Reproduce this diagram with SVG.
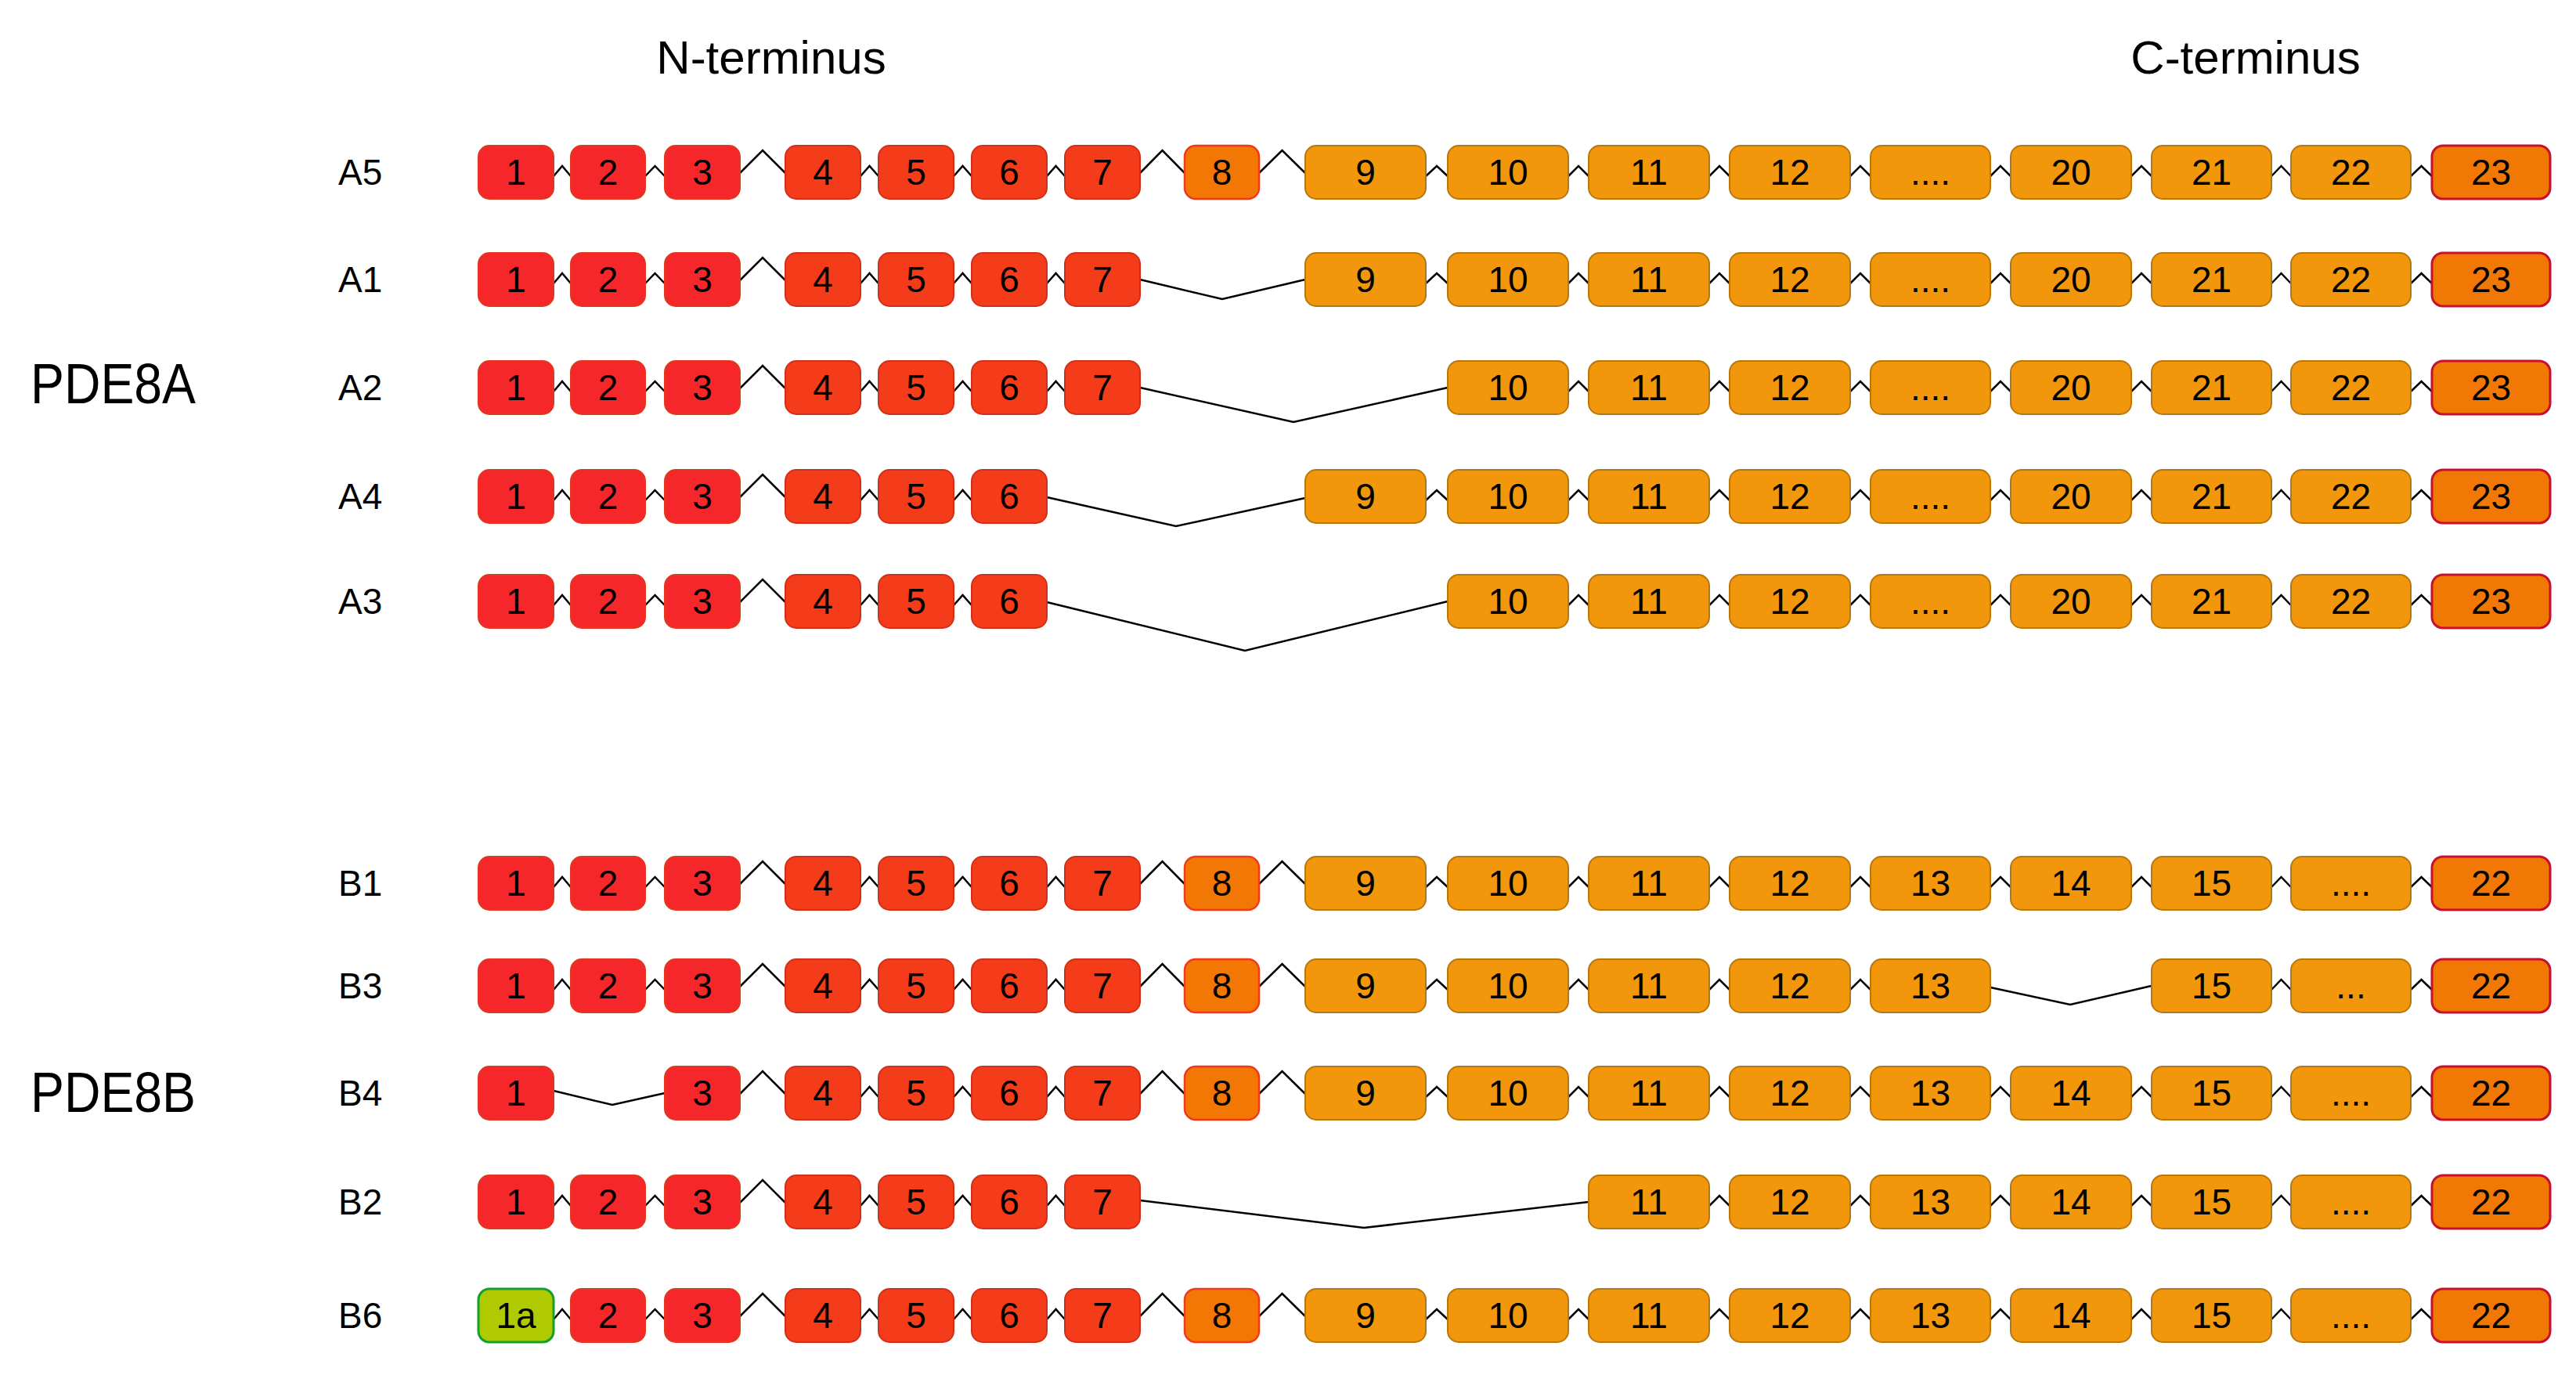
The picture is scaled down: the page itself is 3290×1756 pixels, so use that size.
<svg xmlns="http://www.w3.org/2000/svg" width="3290" height="1756" viewBox="0 0 3290 1756">
<style>
rect{rx:14px;ry:14px}
.r1{fill:#F5272B;stroke:#E0381C;stroke-width:2}
.r2{fill:#F43C1A;stroke:#D0301A;stroke-width:2}
.o8{fill:#F27705;stroke:#F03A1E;stroke-width:2.5}
.o{fill:#F2960B;stroke:#B8770E;stroke-width:2}
.l{fill:#F27806;stroke:#C8102E;stroke-width:3}
.g{fill:#AFCA00;stroke:#14A02C;stroke-width:3}
text{font-family:"Liberation Sans",Arial,sans-serif;fill:#000}
.n{font-size:46px;text-anchor:middle}
.lab{font-size:46px}
.big{font-size:72px}
.ter{font-size:60px;text-anchor:middle}
.cn{fill:none;stroke:#000;stroke-width:2.5}
</style>
<rect x="0" y="0" width="3290" height="1756" style="fill:#fff;rx:0;ry:0"/>
<g id="titles">
<text class="ter" x="985" y="94">N-terminus</text>
<text class="ter" x="2868" y="94">C-terminus</text>
<text class="big" x="39" y="515" textLength="211" lengthAdjust="spacingAndGlyphs">PDE8A</text>
<text class="big" x="39" y="1420" textLength="211" lengthAdjust="spacingAndGlyphs">PDE8B</text>
<text class="lab" x="432" y="236">A5</text>
<text class="lab" x="432" y="373">A1</text>
<text class="lab" x="432" y="511">A2</text>
<text class="lab" x="432" y="650">A4</text>
<text class="lab" x="432" y="784">A3</text>
<text class="lab" x="432" y="1144">B1</text>
<text class="lab" x="432" y="1275">B3</text>
<text class="lab" x="432" y="1412">B4</text>
<text class="lab" x="432" y="1551">B2</text>
<text class="lab" x="432" y="1696">B6</text>
</g>
<g id="connectors" class="cn">
<path id="c-A5" d="M707,225L718,212L729,225M824,225L836.5,212L849,225M945,221L974,192L1003,221M1099,225L1110.5,212L1122,225M1218,225L1229.5,212L1241,225M1337,225L1348.5,212L1360,225M1456,221L1484.5,192L1513,221M1608,221L1637.5,192L1667,221M1821,225L1835,212L1849,225M2003,225L2016,212L2029,225M2183,225L2196,212L2209,225M2363,225L2376,212L2389,225M2542,225L2555,212L2568,225M2722,225L2735,212L2748,225M2901,225L2913.5,212L2926,225M3079,225L3092.5,212L3106,225"/>
<path id="c-A1" d="M707,362L718,349L729,362M824,362L836.5,349L849,362M945,358L974,329L1003,358M1099,362L1110.5,349L1122,362M1218,362L1229.5,349L1241,362M1337,362L1348.5,349L1360,362M1456,357L1561,382L1667,357M1821,362L1835,349L1849,362M2003,362L2016,349L2029,362M2183,362L2196,349L2209,362M2363,362L2376,349L2389,362M2542,362L2555,349L2568,362M2722,362L2735,349L2748,362M2901,362L2913.5,349L2926,362M3079,362L3092.5,349L3106,362"/>
<path id="c-A2" d="M707,500L718,487L729,500M824,500L836.5,487L849,500M945,496L974,467L1003,496M1099,500L1110.5,487L1122,500M1218,500L1229.5,487L1241,500M1337,500L1348.5,487L1360,500M1456,495L1652,539L1849,495M2003,500L2016,487L2029,500M2183,500L2196,487L2209,500M2363,500L2376,487L2389,500M2542,500L2555,487L2568,500M2722,500L2735,487L2748,500M2901,500L2913.5,487L2926,500M3079,500L3092.5,487L3106,500"/>
<path id="c-A4" d="M707,639L718,626L729,639M824,639L836.5,626L849,639M945,635L974,606L1003,635M1099,639L1110.5,626L1122,639M1218,639L1229.5,626L1241,639M1337,635L1502,672L1667,636M1821,639L1835,626L1849,639M2003,639L2016,626L2029,639M2183,639L2196,626L2209,639M2363,639L2376,626L2389,639M2542,639L2555,626L2568,639M2722,639L2735,626L2748,639M2901,639L2913.5,626L2926,639M3079,639L3092.5,626L3106,639"/>
<path id="c-A3" d="M707,773L718,760L729,773M824,773L836.5,760L849,773M945,769L974,740L1003,769M1099,773L1110.5,760L1122,773M1218,773L1229.5,760L1241,773M1337,769L1590,831L1849,768M2003,773L2016,760L2029,773M2183,773L2196,760L2209,773M2363,773L2376,760L2389,773M2542,773L2555,760L2568,773M2722,773L2735,760L2748,773M2901,773L2913.5,760L2926,773M3079,773L3092.5,760L3106,773"/>
<path id="c-B1" d="M707,1133L718,1120L729,1133M824,1133L836.5,1120L849,1133M945,1129L974,1100L1003,1129M1099,1133L1110.5,1120L1122,1133M1218,1133L1229.5,1120L1241,1133M1337,1133L1348.5,1120L1360,1133M1456,1129L1484.5,1100L1513,1129M1608,1129L1637.5,1100L1667,1129M1821,1133L1835,1120L1849,1133M2003,1133L2016,1120L2029,1133M2183,1133L2196,1120L2209,1133M2363,1133L2376,1120L2389,1133M2542,1133L2555,1120L2568,1133M2722,1133L2735,1120L2748,1133M2901,1133L2913.5,1120L2926,1133M3079,1133L3092.5,1120L3106,1133"/>
<path id="c-B3" d="M707,1264L718,1251L729,1264M824,1264L836.5,1251L849,1264M945,1260L974,1231L1003,1260M1099,1264L1110.5,1251L1122,1264M1218,1264L1229.5,1251L1241,1264M1337,1264L1348.5,1251L1360,1264M1456,1260L1484.5,1231L1513,1260M1608,1260L1637.5,1231L1667,1260M1821,1264L1835,1251L1849,1264M2003,1264L2016,1251L2029,1264M2183,1264L2196,1251L2209,1264M2363,1264L2376,1251L2389,1264M2542,1261L2644,1283L2748,1259M2901,1264L2913.5,1251L2926,1264M3079,1264L3092.5,1251L3106,1264"/>
<path id="c-B4" d="M707,1393L782,1411L849,1396M945,1397L974,1368L1003,1397M1099,1401L1110.5,1388L1122,1401M1218,1401L1229.5,1388L1241,1401M1337,1401L1348.5,1388L1360,1401M1456,1397L1484.5,1368L1513,1397M1608,1397L1637.5,1368L1667,1397M1821,1401L1835,1388L1849,1401M2003,1401L2016,1388L2029,1401M2183,1401L2196,1388L2209,1401M2363,1401L2376,1388L2389,1401M2542,1401L2555,1388L2568,1401M2722,1401L2735,1388L2748,1401M2901,1401L2913.5,1388L2926,1401M3079,1401L3092.5,1388L3106,1401"/>
<path id="c-B2" d="M707,1540L718,1527L729,1540M824,1540L836.5,1527L849,1540M945,1536L974,1507L1003,1536M1099,1540L1110.5,1527L1122,1540M1218,1540L1229.5,1527L1241,1540M1337,1540L1348.5,1527L1360,1540M1456,1533L1742,1568L2029,1535M2183,1540L2196,1527L2209,1540M2363,1540L2376,1527L2389,1540M2542,1540L2555,1527L2568,1540M2722,1540L2735,1527L2748,1540M2901,1540L2913.5,1527L2926,1540M3079,1540L3092.5,1527L3106,1540"/>
<path id="c-B6" d="M707,1685L718,1672L729,1685M824,1685L836.5,1672L849,1685M945,1681L974,1652L1003,1681M1099,1685L1110.5,1672L1122,1685M1218,1685L1229.5,1672L1241,1685M1337,1685L1348.5,1672L1360,1685M1456,1681L1484.5,1652L1513,1681M1608,1681L1637.5,1652L1667,1681M1821,1685L1835,1672L1849,1685M2003,1685L2016,1672L2029,1685M2183,1685L2196,1672L2209,1685M2363,1685L2376,1672L2389,1685M2542,1685L2555,1672L2568,1685M2722,1685L2735,1672L2748,1685M2901,1685L2913.5,1672L2926,1685M3079,1685L3092.5,1672L3106,1685"/>
</g>
<g id="row-A5">
<g id="A5-e1"><rect class="r1" x="611" y="186" width="96" height="68"/><text class="n" x="659" y="236">1</text></g>
<g id="A5-e2"><rect class="r1" x="729" y="186" width="95" height="68"/><text class="n" x="776.5" y="236">2</text></g>
<g id="A5-e3"><rect class="r1" x="849" y="186" width="96" height="68"/><text class="n" x="897" y="236">3</text></g>
<g id="A5-e4"><rect class="r2" x="1003" y="186" width="96" height="68"/><text class="n" x="1051" y="236">4</text></g>
<g id="A5-e5"><rect class="r2" x="1122" y="186" width="96" height="68"/><text class="n" x="1170" y="236">5</text></g>
<g id="A5-e6"><rect class="r2" x="1241" y="186" width="96" height="68"/><text class="n" x="1289" y="236">6</text></g>
<g id="A5-e7"><rect class="r2" x="1360" y="186" width="96" height="68"/><text class="n" x="1408" y="236">7</text></g>
<g id="A5-e8"><rect class="o8" x="1513" y="186" width="95" height="68"/><text class="n" x="1560.5" y="236">8</text></g>
<g id="A5-e9"><rect class="o" x="1667" y="186" width="154" height="68"/><text class="n" x="1744" y="236">9</text></g>
<g id="A5-e10"><rect class="o" x="1849" y="186" width="154" height="68"/><text class="n" x="1926" y="236">10</text></g>
<g id="A5-e11"><rect class="o" x="2029" y="186" width="154" height="68"/><text class="n" x="2106" y="236">11</text></g>
<g id="A5-e12"><rect class="o" x="2209" y="186" width="154" height="68"/><text class="n" x="2286" y="236">12</text></g>
<g id="A5-dots"><rect class="o" x="2389" y="186" width="153" height="68"/><text class="n" x="2465.5" y="236">....</text></g>
<g id="A5-e20"><rect class="o" x="2568" y="186" width="154" height="68"/><text class="n" x="2645" y="236">20</text></g>
<g id="A5-e21"><rect class="o" x="2748" y="186" width="153" height="68"/><text class="n" x="2824.5" y="236">21</text></g>
<g id="A5-e22"><rect class="o" x="2926" y="186" width="153" height="68"/><text class="n" x="3002.5" y="236">22</text></g>
<g id="A5-e23"><rect class="l" x="3106" y="186" width="151" height="68"/><text class="n" x="3181.5" y="236">23</text></g>
</g>
<g id="row-A1">
<g id="A1-e1"><rect class="r1" x="611" y="323" width="96" height="68"/><text class="n" x="659" y="373">1</text></g>
<g id="A1-e2"><rect class="r1" x="729" y="323" width="95" height="68"/><text class="n" x="776.5" y="373">2</text></g>
<g id="A1-e3"><rect class="r1" x="849" y="323" width="96" height="68"/><text class="n" x="897" y="373">3</text></g>
<g id="A1-e4"><rect class="r2" x="1003" y="323" width="96" height="68"/><text class="n" x="1051" y="373">4</text></g>
<g id="A1-e5"><rect class="r2" x="1122" y="323" width="96" height="68"/><text class="n" x="1170" y="373">5</text></g>
<g id="A1-e6"><rect class="r2" x="1241" y="323" width="96" height="68"/><text class="n" x="1289" y="373">6</text></g>
<g id="A1-e7"><rect class="r2" x="1360" y="323" width="96" height="68"/><text class="n" x="1408" y="373">7</text></g>
<g id="A1-e9"><rect class="o" x="1667" y="323" width="154" height="68"/><text class="n" x="1744" y="373">9</text></g>
<g id="A1-e10"><rect class="o" x="1849" y="323" width="154" height="68"/><text class="n" x="1926" y="373">10</text></g>
<g id="A1-e11"><rect class="o" x="2029" y="323" width="154" height="68"/><text class="n" x="2106" y="373">11</text></g>
<g id="A1-e12"><rect class="o" x="2209" y="323" width="154" height="68"/><text class="n" x="2286" y="373">12</text></g>
<g id="A1-dots"><rect class="o" x="2389" y="323" width="153" height="68"/><text class="n" x="2465.5" y="373">....</text></g>
<g id="A1-e20"><rect class="o" x="2568" y="323" width="154" height="68"/><text class="n" x="2645" y="373">20</text></g>
<g id="A1-e21"><rect class="o" x="2748" y="323" width="153" height="68"/><text class="n" x="2824.5" y="373">21</text></g>
<g id="A1-e22"><rect class="o" x="2926" y="323" width="153" height="68"/><text class="n" x="3002.5" y="373">22</text></g>
<g id="A1-e23"><rect class="l" x="3106" y="323" width="151" height="68"/><text class="n" x="3181.5" y="373">23</text></g>
</g>
<g id="row-A2">
<g id="A2-e1"><rect class="r1" x="611" y="461" width="96" height="68"/><text class="n" x="659" y="511">1</text></g>
<g id="A2-e2"><rect class="r1" x="729" y="461" width="95" height="68"/><text class="n" x="776.5" y="511">2</text></g>
<g id="A2-e3"><rect class="r1" x="849" y="461" width="96" height="68"/><text class="n" x="897" y="511">3</text></g>
<g id="A2-e4"><rect class="r2" x="1003" y="461" width="96" height="68"/><text class="n" x="1051" y="511">4</text></g>
<g id="A2-e5"><rect class="r2" x="1122" y="461" width="96" height="68"/><text class="n" x="1170" y="511">5</text></g>
<g id="A2-e6"><rect class="r2" x="1241" y="461" width="96" height="68"/><text class="n" x="1289" y="511">6</text></g>
<g id="A2-e7"><rect class="r2" x="1360" y="461" width="96" height="68"/><text class="n" x="1408" y="511">7</text></g>
<g id="A2-e10"><rect class="o" x="1849" y="461" width="154" height="68"/><text class="n" x="1926" y="511">10</text></g>
<g id="A2-e11"><rect class="o" x="2029" y="461" width="154" height="68"/><text class="n" x="2106" y="511">11</text></g>
<g id="A2-e12"><rect class="o" x="2209" y="461" width="154" height="68"/><text class="n" x="2286" y="511">12</text></g>
<g id="A2-dots"><rect class="o" x="2389" y="461" width="153" height="68"/><text class="n" x="2465.5" y="511">....</text></g>
<g id="A2-e20"><rect class="o" x="2568" y="461" width="154" height="68"/><text class="n" x="2645" y="511">20</text></g>
<g id="A2-e21"><rect class="o" x="2748" y="461" width="153" height="68"/><text class="n" x="2824.5" y="511">21</text></g>
<g id="A2-e22"><rect class="o" x="2926" y="461" width="153" height="68"/><text class="n" x="3002.5" y="511">22</text></g>
<g id="A2-e23"><rect class="l" x="3106" y="461" width="151" height="68"/><text class="n" x="3181.5" y="511">23</text></g>
</g>
<g id="row-A4">
<g id="A4-e1"><rect class="r1" x="611" y="600" width="96" height="68"/><text class="n" x="659" y="650">1</text></g>
<g id="A4-e2"><rect class="r1" x="729" y="600" width="95" height="68"/><text class="n" x="776.5" y="650">2</text></g>
<g id="A4-e3"><rect class="r1" x="849" y="600" width="96" height="68"/><text class="n" x="897" y="650">3</text></g>
<g id="A4-e4"><rect class="r2" x="1003" y="600" width="96" height="68"/><text class="n" x="1051" y="650">4</text></g>
<g id="A4-e5"><rect class="r2" x="1122" y="600" width="96" height="68"/><text class="n" x="1170" y="650">5</text></g>
<g id="A4-e6"><rect class="r2" x="1241" y="600" width="96" height="68"/><text class="n" x="1289" y="650">6</text></g>
<g id="A4-e9"><rect class="o" x="1667" y="600" width="154" height="68"/><text class="n" x="1744" y="650">9</text></g>
<g id="A4-e10"><rect class="o" x="1849" y="600" width="154" height="68"/><text class="n" x="1926" y="650">10</text></g>
<g id="A4-e11"><rect class="o" x="2029" y="600" width="154" height="68"/><text class="n" x="2106" y="650">11</text></g>
<g id="A4-e12"><rect class="o" x="2209" y="600" width="154" height="68"/><text class="n" x="2286" y="650">12</text></g>
<g id="A4-dots"><rect class="o" x="2389" y="600" width="153" height="68"/><text class="n" x="2465.5" y="650">....</text></g>
<g id="A4-e20"><rect class="o" x="2568" y="600" width="154" height="68"/><text class="n" x="2645" y="650">20</text></g>
<g id="A4-e21"><rect class="o" x="2748" y="600" width="153" height="68"/><text class="n" x="2824.5" y="650">21</text></g>
<g id="A4-e22"><rect class="o" x="2926" y="600" width="153" height="68"/><text class="n" x="3002.5" y="650">22</text></g>
<g id="A4-e23"><rect class="l" x="3106" y="600" width="151" height="68"/><text class="n" x="3181.5" y="650">23</text></g>
</g>
<g id="row-A3">
<g id="A3-e1"><rect class="r1" x="611" y="734" width="96" height="68"/><text class="n" x="659" y="784">1</text></g>
<g id="A3-e2"><rect class="r1" x="729" y="734" width="95" height="68"/><text class="n" x="776.5" y="784">2</text></g>
<g id="A3-e3"><rect class="r1" x="849" y="734" width="96" height="68"/><text class="n" x="897" y="784">3</text></g>
<g id="A3-e4"><rect class="r2" x="1003" y="734" width="96" height="68"/><text class="n" x="1051" y="784">4</text></g>
<g id="A3-e5"><rect class="r2" x="1122" y="734" width="96" height="68"/><text class="n" x="1170" y="784">5</text></g>
<g id="A3-e6"><rect class="r2" x="1241" y="734" width="96" height="68"/><text class="n" x="1289" y="784">6</text></g>
<g id="A3-e10"><rect class="o" x="1849" y="734" width="154" height="68"/><text class="n" x="1926" y="784">10</text></g>
<g id="A3-e11"><rect class="o" x="2029" y="734" width="154" height="68"/><text class="n" x="2106" y="784">11</text></g>
<g id="A3-e12"><rect class="o" x="2209" y="734" width="154" height="68"/><text class="n" x="2286" y="784">12</text></g>
<g id="A3-dots"><rect class="o" x="2389" y="734" width="153" height="68"/><text class="n" x="2465.5" y="784">....</text></g>
<g id="A3-e20"><rect class="o" x="2568" y="734" width="154" height="68"/><text class="n" x="2645" y="784">20</text></g>
<g id="A3-e21"><rect class="o" x="2748" y="734" width="153" height="68"/><text class="n" x="2824.5" y="784">21</text></g>
<g id="A3-e22"><rect class="o" x="2926" y="734" width="153" height="68"/><text class="n" x="3002.5" y="784">22</text></g>
<g id="A3-e23"><rect class="l" x="3106" y="734" width="151" height="68"/><text class="n" x="3181.5" y="784">23</text></g>
</g>
<g id="row-B1">
<g id="B1-e1"><rect class="r1" x="611" y="1094" width="96" height="68"/><text class="n" x="659" y="1144">1</text></g>
<g id="B1-e2"><rect class="r1" x="729" y="1094" width="95" height="68"/><text class="n" x="776.5" y="1144">2</text></g>
<g id="B1-e3"><rect class="r1" x="849" y="1094" width="96" height="68"/><text class="n" x="897" y="1144">3</text></g>
<g id="B1-e4"><rect class="r2" x="1003" y="1094" width="96" height="68"/><text class="n" x="1051" y="1144">4</text></g>
<g id="B1-e5"><rect class="r2" x="1122" y="1094" width="96" height="68"/><text class="n" x="1170" y="1144">5</text></g>
<g id="B1-e6"><rect class="r2" x="1241" y="1094" width="96" height="68"/><text class="n" x="1289" y="1144">6</text></g>
<g id="B1-e7"><rect class="r2" x="1360" y="1094" width="96" height="68"/><text class="n" x="1408" y="1144">7</text></g>
<g id="B1-e8"><rect class="o8" x="1513" y="1094" width="95" height="68"/><text class="n" x="1560.5" y="1144">8</text></g>
<g id="B1-e9"><rect class="o" x="1667" y="1094" width="154" height="68"/><text class="n" x="1744" y="1144">9</text></g>
<g id="B1-e10"><rect class="o" x="1849" y="1094" width="154" height="68"/><text class="n" x="1926" y="1144">10</text></g>
<g id="B1-e11"><rect class="o" x="2029" y="1094" width="154" height="68"/><text class="n" x="2106" y="1144">11</text></g>
<g id="B1-e12"><rect class="o" x="2209" y="1094" width="154" height="68"/><text class="n" x="2286" y="1144">12</text></g>
<g id="B1-e13"><rect class="o" x="2389" y="1094" width="153" height="68"/><text class="n" x="2465.5" y="1144">13</text></g>
<g id="B1-e14"><rect class="o" x="2568" y="1094" width="154" height="68"/><text class="n" x="2645" y="1144">14</text></g>
<g id="B1-e15"><rect class="o" x="2748" y="1094" width="153" height="68"/><text class="n" x="2824.5" y="1144">15</text></g>
<g id="B1-dots"><rect class="o" x="2926" y="1094" width="153" height="68"/><text class="n" x="3002.5" y="1144">....</text></g>
<g id="B1-e22"><rect class="l" x="3106" y="1094" width="151" height="68"/><text class="n" x="3181.5" y="1144">22</text></g>
</g>
<g id="row-B3">
<g id="B3-e1"><rect class="r1" x="611" y="1225" width="96" height="68"/><text class="n" x="659" y="1275">1</text></g>
<g id="B3-e2"><rect class="r1" x="729" y="1225" width="95" height="68"/><text class="n" x="776.5" y="1275">2</text></g>
<g id="B3-e3"><rect class="r1" x="849" y="1225" width="96" height="68"/><text class="n" x="897" y="1275">3</text></g>
<g id="B3-e4"><rect class="r2" x="1003" y="1225" width="96" height="68"/><text class="n" x="1051" y="1275">4</text></g>
<g id="B3-e5"><rect class="r2" x="1122" y="1225" width="96" height="68"/><text class="n" x="1170" y="1275">5</text></g>
<g id="B3-e6"><rect class="r2" x="1241" y="1225" width="96" height="68"/><text class="n" x="1289" y="1275">6</text></g>
<g id="B3-e7"><rect class="r2" x="1360" y="1225" width="96" height="68"/><text class="n" x="1408" y="1275">7</text></g>
<g id="B3-e8"><rect class="o8" x="1513" y="1225" width="95" height="68"/><text class="n" x="1560.5" y="1275">8</text></g>
<g id="B3-e9"><rect class="o" x="1667" y="1225" width="154" height="68"/><text class="n" x="1744" y="1275">9</text></g>
<g id="B3-e10"><rect class="o" x="1849" y="1225" width="154" height="68"/><text class="n" x="1926" y="1275">10</text></g>
<g id="B3-e11"><rect class="o" x="2029" y="1225" width="154" height="68"/><text class="n" x="2106" y="1275">11</text></g>
<g id="B3-e12"><rect class="o" x="2209" y="1225" width="154" height="68"/><text class="n" x="2286" y="1275">12</text></g>
<g id="B3-e13"><rect class="o" x="2389" y="1225" width="153" height="68"/><text class="n" x="2465.5" y="1275">13</text></g>
<g id="B3-e15"><rect class="o" x="2748" y="1225" width="153" height="68"/><text class="n" x="2824.5" y="1275">15</text></g>
<g id="B3-dots"><rect class="o" x="2926" y="1225" width="153" height="68"/><text class="n" x="3002.5" y="1275">...</text></g>
<g id="B3-e22"><rect class="l" x="3106" y="1225" width="151" height="68"/><text class="n" x="3181.5" y="1275">22</text></g>
</g>
<g id="row-B4">
<g id="B4-e1"><rect class="r1" x="611" y="1362" width="96" height="68"/><text class="n" x="659" y="1412">1</text></g>
<g id="B4-e3"><rect class="r1" x="849" y="1362" width="96" height="68"/><text class="n" x="897" y="1412">3</text></g>
<g id="B4-e4"><rect class="r2" x="1003" y="1362" width="96" height="68"/><text class="n" x="1051" y="1412">4</text></g>
<g id="B4-e5"><rect class="r2" x="1122" y="1362" width="96" height="68"/><text class="n" x="1170" y="1412">5</text></g>
<g id="B4-e6"><rect class="r2" x="1241" y="1362" width="96" height="68"/><text class="n" x="1289" y="1412">6</text></g>
<g id="B4-e7"><rect class="r2" x="1360" y="1362" width="96" height="68"/><text class="n" x="1408" y="1412">7</text></g>
<g id="B4-e8"><rect class="o8" x="1513" y="1362" width="95" height="68"/><text class="n" x="1560.5" y="1412">8</text></g>
<g id="B4-e9"><rect class="o" x="1667" y="1362" width="154" height="68"/><text class="n" x="1744" y="1412">9</text></g>
<g id="B4-e10"><rect class="o" x="1849" y="1362" width="154" height="68"/><text class="n" x="1926" y="1412">10</text></g>
<g id="B4-e11"><rect class="o" x="2029" y="1362" width="154" height="68"/><text class="n" x="2106" y="1412">11</text></g>
<g id="B4-e12"><rect class="o" x="2209" y="1362" width="154" height="68"/><text class="n" x="2286" y="1412">12</text></g>
<g id="B4-e13"><rect class="o" x="2389" y="1362" width="153" height="68"/><text class="n" x="2465.5" y="1412">13</text></g>
<g id="B4-e14"><rect class="o" x="2568" y="1362" width="154" height="68"/><text class="n" x="2645" y="1412">14</text></g>
<g id="B4-e15"><rect class="o" x="2748" y="1362" width="153" height="68"/><text class="n" x="2824.5" y="1412">15</text></g>
<g id="B4-dots"><rect class="o" x="2926" y="1362" width="153" height="68"/><text class="n" x="3002.5" y="1412">....</text></g>
<g id="B4-e22"><rect class="l" x="3106" y="1362" width="151" height="68"/><text class="n" x="3181.5" y="1412">22</text></g>
</g>
<g id="row-B2">
<g id="B2-e1"><rect class="r1" x="611" y="1501" width="96" height="68"/><text class="n" x="659" y="1551">1</text></g>
<g id="B2-e2"><rect class="r1" x="729" y="1501" width="95" height="68"/><text class="n" x="776.5" y="1551">2</text></g>
<g id="B2-e3"><rect class="r1" x="849" y="1501" width="96" height="68"/><text class="n" x="897" y="1551">3</text></g>
<g id="B2-e4"><rect class="r2" x="1003" y="1501" width="96" height="68"/><text class="n" x="1051" y="1551">4</text></g>
<g id="B2-e5"><rect class="r2" x="1122" y="1501" width="96" height="68"/><text class="n" x="1170" y="1551">5</text></g>
<g id="B2-e6"><rect class="r2" x="1241" y="1501" width="96" height="68"/><text class="n" x="1289" y="1551">6</text></g>
<g id="B2-e7"><rect class="r2" x="1360" y="1501" width="96" height="68"/><text class="n" x="1408" y="1551">7</text></g>
<g id="B2-e11"><rect class="o" x="2029" y="1501" width="154" height="68"/><text class="n" x="2106" y="1551">11</text></g>
<g id="B2-e12"><rect class="o" x="2209" y="1501" width="154" height="68"/><text class="n" x="2286" y="1551">12</text></g>
<g id="B2-e13"><rect class="o" x="2389" y="1501" width="153" height="68"/><text class="n" x="2465.5" y="1551">13</text></g>
<g id="B2-e14"><rect class="o" x="2568" y="1501" width="154" height="68"/><text class="n" x="2645" y="1551">14</text></g>
<g id="B2-e15"><rect class="o" x="2748" y="1501" width="153" height="68"/><text class="n" x="2824.5" y="1551">15</text></g>
<g id="B2-dots"><rect class="o" x="2926" y="1501" width="153" height="68"/><text class="n" x="3002.5" y="1551">....</text></g>
<g id="B2-e22"><rect class="l" x="3106" y="1501" width="151" height="68"/><text class="n" x="3181.5" y="1551">22</text></g>
</g>
<g id="row-B6">
<g id="B6-e1a"><rect class="g" x="611" y="1646" width="96" height="68"/><text class="n" x="659" y="1696">1a</text></g>
<g id="B6-e2"><rect class="r1" x="729" y="1646" width="95" height="68"/><text class="n" x="776.5" y="1696">2</text></g>
<g id="B6-e3"><rect class="r1" x="849" y="1646" width="96" height="68"/><text class="n" x="897" y="1696">3</text></g>
<g id="B6-e4"><rect class="r2" x="1003" y="1646" width="96" height="68"/><text class="n" x="1051" y="1696">4</text></g>
<g id="B6-e5"><rect class="r2" x="1122" y="1646" width="96" height="68"/><text class="n" x="1170" y="1696">5</text></g>
<g id="B6-e6"><rect class="r2" x="1241" y="1646" width="96" height="68"/><text class="n" x="1289" y="1696">6</text></g>
<g id="B6-e7"><rect class="r2" x="1360" y="1646" width="96" height="68"/><text class="n" x="1408" y="1696">7</text></g>
<g id="B6-e8"><rect class="o8" x="1513" y="1646" width="95" height="68"/><text class="n" x="1560.5" y="1696">8</text></g>
<g id="B6-e9"><rect class="o" x="1667" y="1646" width="154" height="68"/><text class="n" x="1744" y="1696">9</text></g>
<g id="B6-e10"><rect class="o" x="1849" y="1646" width="154" height="68"/><text class="n" x="1926" y="1696">10</text></g>
<g id="B6-e11"><rect class="o" x="2029" y="1646" width="154" height="68"/><text class="n" x="2106" y="1696">11</text></g>
<g id="B6-e12"><rect class="o" x="2209" y="1646" width="154" height="68"/><text class="n" x="2286" y="1696">12</text></g>
<g id="B6-e13"><rect class="o" x="2389" y="1646" width="153" height="68"/><text class="n" x="2465.5" y="1696">13</text></g>
<g id="B6-e14"><rect class="o" x="2568" y="1646" width="154" height="68"/><text class="n" x="2645" y="1696">14</text></g>
<g id="B6-e15"><rect class="o" x="2748" y="1646" width="153" height="68"/><text class="n" x="2824.5" y="1696">15</text></g>
<g id="B6-dots"><rect class="o" x="2926" y="1646" width="153" height="68"/><text class="n" x="3002.5" y="1696">....</text></g>
<g id="B6-e22"><rect class="l" x="3106" y="1646" width="151" height="68"/><text class="n" x="3181.5" y="1696">22</text></g>
</g>
</svg>
